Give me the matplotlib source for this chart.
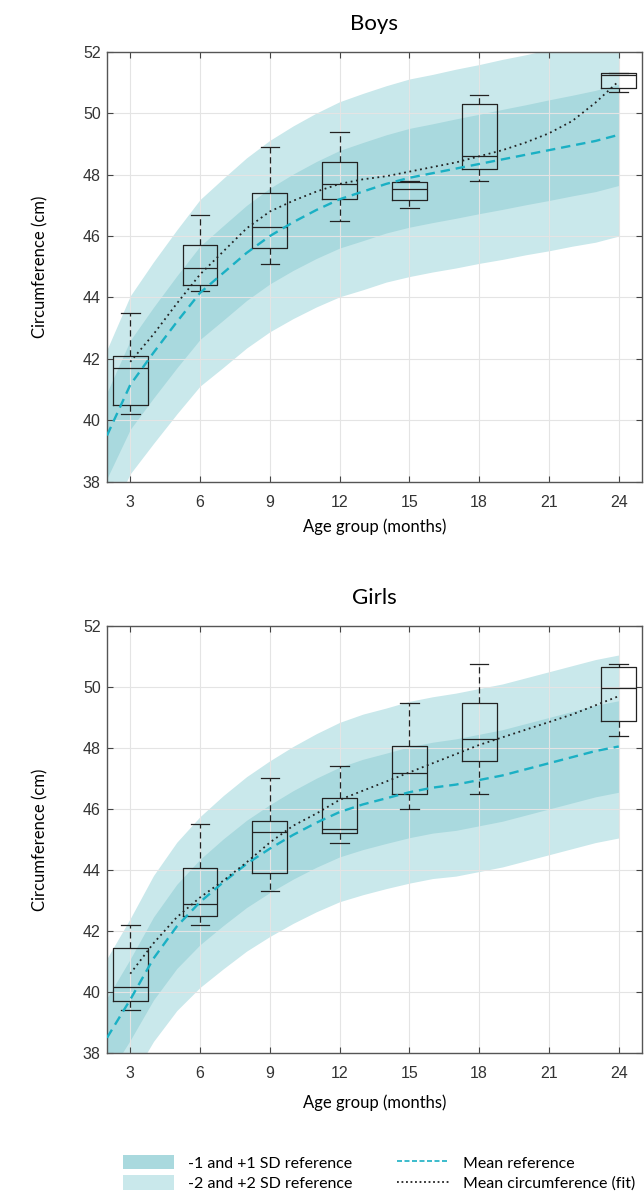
import numpy as np
import matplotlib.pyplot as plt
from matplotlib.patches import Patch
from matplotlib.lines import Line2D

plt.rcParams['font.family'] = ['Liberation Sans', 'DejaVu Sans']
LABEL_FONT = ['Lato', 'DejaVu Sans']

# reference curves, one value per month (2..24)
months = list(range(2, 25))
boys_ref_mean = [39.5, 41.15, 42.2, 43.2, 44.15, 44.8, 45.45, 46.0, 46.45, 46.85, 47.2, 47.45,
                 47.7, 47.9, 48.05, 48.2, 48.35, 48.5, 48.65, 48.8, 48.95, 49.1, 49.3]
boys_ref_sd = [1.40, 1.45, 1.48, 1.50, 1.52, 1.54, 1.55, 1.56, 1.57, 1.58, 1.59, 1.60,
               1.60, 1.61, 1.61, 1.62, 1.62, 1.63, 1.63, 1.64, 1.64, 1.65, 1.65]
girls_ref_mean = [38.5, 39.75, 41.1, 42.15, 42.95, 43.6, 44.2, 44.7, 45.15, 45.55, 45.9, 46.15,
                  46.35, 46.55, 46.7, 46.8, 46.95, 47.1, 47.3, 47.5, 47.7, 47.9, 48.05]
girls_ref_sd = [1.30, 1.33, 1.36, 1.38, 1.40, 1.42, 1.43, 1.44, 1.45, 1.46, 1.47, 1.48,
                1.48, 1.49, 1.49, 1.50, 1.50, 1.50, 1.50, 1.50, 1.50, 1.50, 1.50]

# fitted mean circumference, months 3..24
fit_months = list(range(3, 25))
boys_fit = [41.9, 42.8, 43.8, 44.75, 45.5, 46.25, 46.8, 47.15, 47.45, 47.7, 47.85, 47.95,
            48.1, 48.25, 48.4, 48.6, 48.8, 49.05, 49.35, 49.75, 50.35, 51.05]
girls_fit = [40.6, 41.6, 42.45, 43.1, 43.65, 44.25, 44.9, 45.45, 45.85, 46.3, 46.6, 46.9,
             47.2, 47.5, 47.8, 48.1, 48.35, 48.6, 48.85, 49.1, 49.4, 49.7]

# measured groups (box plots)
age_groups = [3, 6, 9, 12, 15, 18, 24]
boys_whislo = [40.2, 44.2, 45.1, 46.5, 46.9, 47.8, 50.7]
boys_q1 = [40.5, 44.4, 45.6, 47.2, 47.16, 48.2, 50.82]
boys_med = [41.7, 44.95, 46.3, 47.7, 47.55, 48.6, 51.25]
boys_q3 = [42.1, 45.7, 47.4, 48.4, 47.77, 50.32, 51.31]
boys_whishi = [43.5, 46.7, 48.9, 49.4, 47.8, 50.6, 51.32]

girls_whislo = [39.4, 42.2, 43.3, 44.9, 46.0, 46.5, 48.38]
girls_q1 = [39.7, 42.5, 43.9, 45.2, 46.5, 47.58, 48.87]
girls_med = [40.15, 42.9, 45.25, 45.35, 47.17, 48.28, 49.96]
girls_q3 = [41.45, 44.05, 45.6, 46.35, 48.07, 49.47, 50.65]
girls_whishi = [42.2, 45.5, 47.0, 47.4, 49.47, 50.76, 50.76]

LIGHT = '#c9e8eb'
DARK = '#a9d9de'
CYAN = '#1ab0c4'
INK = '#222222'


def draw_panel(ax, title, ref_mean, ref_sd, fit, whislo, q1, med, q3, whishi,
               title_pad, xlabel_y):
    m = np.array(ref_mean)
    sd = np.array(ref_sd)
    ax.fill_between(months, m - 2 * sd, m + 2 * sd, color=LIGHT, lw=0, zorder=0.6)
    ax.fill_between(months, m - sd, m + sd, color=DARK, lw=0, zorder=0.7)

    stats = [dict(whislo=a, q1=b, med=c, q3=d, whishi=e, fliers=[])
             for a, b, c, d, e in zip(whislo, q1, med, q3, whishi)]
    ax.bxp(stats, positions=age_groups, widths=1.5, capwidths=0.8, showfliers=False,
           manage_ticks=False,
           boxprops=dict(color=INK, lw=0.9),
           medianprops=dict(color=INK, lw=0.9),
           whiskerprops=dict(color=INK, lw=0.9, linestyle=(0, (5, 3))),
           capprops=dict(color=INK, lw=0.9))

    ax.plot(months, ref_mean, color=CYAN, lw=1.7, dashes=(4, 2.5), zorder=3)
    ax.plot(fit_months, fit, color=INK, lw=1.3, linestyle=(0, (1, 2)), zorder=3)

    ax.set_xlim(2, 25)
    ax.set_ylim(38, 52)
    ax.set_xticks([3, 6, 9, 12, 15, 18, 21, 24])
    ax.set_yticks(range(38, 53, 2))
    ax.set_axisbelow('line')
    ax.grid(True, color='#e4e4e4', lw=0.8)
    ax.tick_params(direction='in', top=True, right=True, length=4, width=0.8,
                   color='#444444', labelsize=11.5, labelcolor='#333333')
    ax.tick_params(axis='x', pad=9.5)
    ax.tick_params(axis='y', pad=4.5)
    for s in ax.spines.values():
        s.set_color('#555555')
        s.set_linewidth(1.0)

    ax.set_title(title, fontsize=16, family=LABEL_FONT, pad=title_pad)
    ax.set_xlabel('Age group (months)', fontsize=12, family=LABEL_FONT)
    ax.set_ylabel('Circumference (cm)', fontsize=12, family=LABEL_FONT)
    ax.xaxis.set_label_coords(0.5, xlabel_y)
    ax.yaxis.set_label_coords(-0.110, 0.5)


fig = plt.figure(figsize=(6.44, 11.98), dpi=100)
ax_boys = fig.add_axes([107 / 644, 1 - 481.5 / 1198, 535 / 644, 429.5 / 1198])
ax_girls = fig.add_axes([107 / 644, 1 - 1053 / 1198, 535 / 644, 427 / 1198])

draw_panel(ax_boys, 'Boys', boys_ref_mean, boys_ref_sd, boys_fit,
           boys_whislo, boys_q1, boys_med, boys_q3, boys_whishi,
           title_pad=16, xlabel_y=-0.085)
draw_panel(ax_girls, 'Girls', girls_ref_mean, girls_ref_sd, girls_fit,
           girls_whislo, girls_q1, girls_med, girls_q3, girls_whishi,
           title_pad=15.5, xlabel_y=-0.096)

handles = [Patch(facecolor=DARK, edgecolor='none'),
           Patch(facecolor=LIGHT, edgecolor='none'),
           Line2D([], [], color=CYAN, lw=1.2, dashes=(3, 1.5)),
           Line2D([], [], color=INK, lw=1.3, linestyle=(0, (1, 1.5)))]
labels = ['-1 and +1 SD reference', '-2 and +2 SD reference',
          'Mean reference', 'Mean circumference (fit)']
fig.legend(handles, labels, ncol=2, loc='center', bbox_to_anchor=(0.5885, 0.0209),
           frameon=False, prop=dict(family=LABEL_FONT, size=11.5),
           handlelength=3.2, handleheight=1.0, handletextpad=0.9,
           columnspacing=2.8, labelspacing=0.3, borderpad=0, borderaxespad=0)

fig.savefig('out.png', dpi=100)
